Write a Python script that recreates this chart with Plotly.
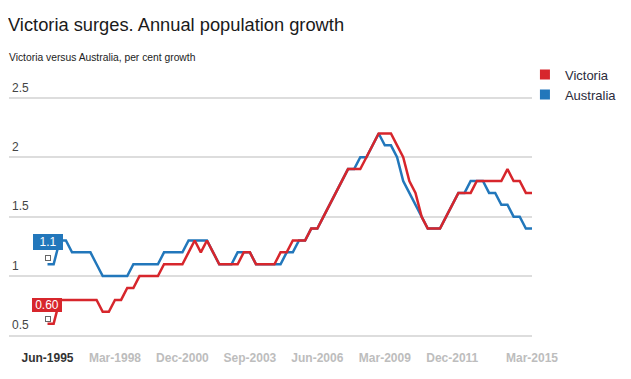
import plotly.graph_objects as go

# ---- data ----
months = ["Mar", "Jun", "Sep", "Dec"]
all_q = [f"{m}-{y}" for y in range(1995, 2016) for m in months]
quarters = all_q[all_q.index("Jun-1995"):all_q.index("Mar-2015") + 1]

victoria = [0.6, 0.6,
            0.8, 0.8, 0.8, 0.8, 0.8, 0.8, 0.8,
            0.7, 0.7, 0.8, 0.8, 0.9, 0.9,
            1.0, 1.0, 1.0, 1.0,
            1.1, 1.1, 1.1, 1.1,
            1.2, 1.3, 1.2, 1.3, 1.2,
            1.1, 1.1, 1.1, 1.1,
            1.2, 1.2,
            1.1, 1.1, 1.1, 1.1,
            1.2, 1.2, 1.3, 1.3, 1.3, 1.4, 1.4,
            1.5, 1.6, 1.7, 1.8,
            1.9, 1.9, 1.9, 2.0, 2.1,
            2.2, 2.2, 2.2,
            2.1, 2.0, 1.8, 1.7, 1.5,
            1.4, 1.4, 1.4, 1.5, 1.6,
            1.7, 1.7, 1.7,
            1.8, 1.8, 1.8, 1.8, 1.8,
            1.9, 1.8, 1.8, 1.7, 1.7]

australia = [1.1, 1.1, 1.3, 1.3,
             1.2, 1.2, 1.2, 1.2, 1.1,
             1.0, 1.0, 1.0, 1.0, 1.0,
             1.1, 1.1, 1.1, 1.1, 1.1,
             1.2, 1.2, 1.2, 1.2,
             1.3, 1.3, 1.3, 1.3, 1.2,
             1.1, 1.1, 1.1,
             1.2, 1.2, 1.2,
             1.1, 1.1, 1.1, 1.1, 1.1,
             1.2, 1.2, 1.3, 1.3, 1.4, 1.4,
             1.5, 1.6, 1.7, 1.8,
             1.9, 1.9, 2.0, 2.0, 2.1, 2.2,
             2.1, 2.1, 2.0, 1.8, 1.7, 1.6, 1.5,
             1.4, 1.4, 1.4, 1.5, 1.6,
             1.7, 1.7, 1.8, 1.8, 1.8,
             1.7, 1.7, 1.6, 1.6, 1.5, 1.5, 1.4, 1.4]

tick_vals = ["Jun-1995", "Mar-1998", "Dec-2000", "Sep-2003",
             "Jun-2006", "Mar-2009", "Dec-2011", "Mar-2015"]
y_ticks = [0.5, 1, 1.5, 2, 2.5]
y_tick_text = ["0.5", "1", "1.5", "2", "2.5"]

RED = "#d7262c"
BLUE = "#2277bb"
FONT = "Liberation Sans, Arial, sans-serif"

fig = go.Figure()
fig.add_trace(go.Scatter(x=quarters, y=australia, mode="lines",
                         line=dict(color=BLUE, width=2.5), showlegend=False,
                         hoverinfo="skip"))
fig.add_trace(go.Scatter(x=quarters, y=victoria, mode="lines",
                         line=dict(color=RED, width=2.5), showlegend=False,
                         hoverinfo="skip"))
# legend entries (square swatches)
fig.add_trace(go.Scatter(x=[None], y=[None], mode="markers", name="Victoria",
                         marker=dict(symbol="square", size=10, color=RED)))
fig.add_trace(go.Scatter(x=[None], y=[None], mode="markers", name="Australia",
                         marker=dict(symbol="square", size=10, color=BLUE)))

tick_text = [f"<span style='color:#333333'>{t}</span>" if i == 0 else t
             for i, t in enumerate(tick_vals)]

fig.update_layout(
    width=631, height=379,
    margin=dict(l=1, r=107, t=66, b=50, autoexpand=False),
    paper_bgcolor="white", plot_bgcolor="white",
    font=dict(family=FONT, color="#333333"),
    title=dict(text="Victoria surges. Annual population growth",
               x=0, xanchor="left", xref="container",
               y=1 - 16.5 / 379, yanchor="middle", yref="container",
               font=dict(family=FONT, size=18.3, color="#1a1a1a")),
    legend=dict(x=0.9865, xanchor="left", y=1.0548, yanchor="top",
                font=dict(family=FONT, size=13, color="#2b2b3b"),
                bgcolor="rgba(0,0,0,0)", itemclick=False),
    xaxis=dict(type="category", range=[-6.28, 79], showgrid=False,
               zeroline=False, showline=False,
               tickvals=tick_vals, ticktext=tick_text,
               ticks="outside", ticklen=10, tickcolor="rgba(0,0,0,0)",
               tickfont=dict(family=FONT, size=12, color="#bdbdbd",
                             weight="bold")),
    yaxis=dict(range=[0.488, 2.7], tickvals=y_ticks,
               ticktext=y_tick_text,
               ticklabelposition="inside top", ticklabelstandoff=0,
               ticklabelshift=-2, showgrid=True,
               gridcolor="#dddddd", gridwidth=1.5, zeroline=False,
               showline=False, ticks="",
               tickfont=dict(family=FONT, size=12, color="#444444")),
    hovermode=False,
    annotations=[
        dict(text="Victoria versus Australia, per cent growth",
             xref="paper", yref="paper", x=-0.003, y=1.0631,
             xanchor="left", yanchor="middle", showarrow=False,
             font=dict(family=FONT, size=10.3, color="#222222")),
        # first-value markers
        dict(text=" ", x=quarters[0], y=australia[0], xref="x", yref="y",
             showarrow=False, yshift=6, xshift=0.5, width=4, height=4,
             borderpad=0, bgcolor="white", bordercolor="#666666",
             borderwidth=1),
        dict(text=" ", x=quarters[0], y=victoria[0], xref="x", yref="y",
             showarrow=False, yshift=5, xshift=0.5, width=4, height=4,
             borderpad=0, bgcolor="white", bordercolor="#666666",
             borderwidth=1),
        # first-value labels
        dict(text=f"{australia[0]:.1f}", x=quarters[0], y=australia[0],
             xref="x", yref="y", showarrow=False, yshift=22, xshift=0.5,
             width=26, height=12, borderpad=1, bgcolor=BLUE,
             bordercolor=BLUE, borderwidth=1,
             font=dict(family=FONT, size=12, color="white")),
        dict(text=f"{victoria[0]:.2f}", x=quarters[0], y=victoria[0],
             xref="x", yref="y", showarrow=False, yshift=19, xshift=-1,
             width=26, height=10, borderpad=1, bgcolor=RED,
             bordercolor=RED, borderwidth=1,
             font=dict(family=FONT, size=12, color="white")),
    ],
)

fig.write_html("out.html")
